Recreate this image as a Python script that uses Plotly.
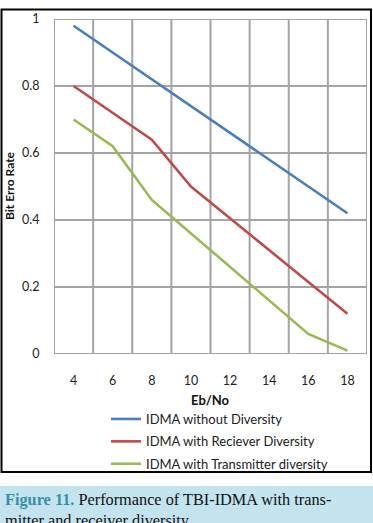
import plotly.graph_objects as go

eb_no = ["4", "6", "8", "10", "12", "14", "16", "18"]
no_div = [0.98, 0.90, 0.82, 0.74, 0.66, 0.58, 0.50, 0.42]
rx_div = [0.80, 0.72, 0.64, 0.50, 0.405, 0.31, 0.215, 0.12]
tx_div = [0.70, 0.62, 0.46, 0.36, 0.26, 0.16, 0.06, 0.01]
names = ["IDMA without Diversity", "IDMA with Reciever Diversity", "IDMA with Transmitter diversity"]
colors = ["#4a7ebb", "#be4b48", "#98b954"]
y_ticks = [0, 0.2, 0.4, 0.6, 0.8, 1]
y_labels = ["0", "0.2", "0.4", "0.6", "0.8", "1"]

W, H = 373, 523
L, R, T, B = 54, 6, 19, 169

fig = go.Figure()
for i, (ys, nm, c) in enumerate(zip([no_div, rx_div, tx_div], names, colors)):
    fig.add_trace(go.Scatter(x=eb_no, y=ys, mode="lines", name=nm,
                             legendgroup=f"g{i}",
                             line=dict(color=c, width=2.6)))

def px_x(p):
    return (p - L) / (W - L - R)

def px_y(p):
    return 1 - (p - T) / (H - T - B)

GRID = "#a4a4a4"
fig.update_layout(
    width=W, height=H,
    margin=dict(l=L, r=R, t=T, b=B),
    paper_bgcolor="white", plot_bgcolor="white",
    font=dict(family="Lato, Open Sans, sans-serif", size=12, color="#222"),
    showlegend=True,
    legend=dict(x=px_x(106), y=px_y(404), xanchor="left", yanchor="top",
                xref="paper", yref="paper",
                font=dict(size=13, family="Lato, Open Sans, sans-serif", color="#222"),
                tracegroupgap=2.5, itemwidth=30, bgcolor="rgba(0,0,0,0)"),
)
fig.update_xaxes(type="category", range=[-0.5, len(eb_no) - 0.5],
                 showgrid=False, showline=False,
                 ticks="outside", ticklen=15, tickcolor="white",
                 zeroline=False, tickfont=dict(size=12.5))
fig.update_yaxes(range=[0, 1], tickvals=y_ticks, ticktext=y_labels,
                 showgrid=False, showline=False,
                 ticks="outside", ticklen=11, tickcolor="white",
                 zeroline=False, tickfont=dict(size=12.5))

# gridlines drawn through the axes' own scales
for yv in y_ticks:
    fig.add_shape(type="line", xref="paper", yref="y", x0=0, x1=1, y0=yv, y1=yv,
                  line=dict(color=GRID, width=2), layer="below")
for k in range(len(eb_no) + 1):
    fig.add_shape(type="line", xref="x", yref="paper", x0=k - 0.5, x1=k - 0.5, y0=0, y1=1,
                  line=dict(color=GRID, width=2), layer="below")

fig.add_annotation(text="<b>Bit Erro Rate</b>", textangle=-90,
                   x=px_x(10), y=px_y(186), xref="paper", yref="paper",
                   xanchor="center", yanchor="middle",
                   showarrow=False, font=dict(size=12, color="#111"))
fig.add_annotation(text="<b>Eb/No</b>",
                   x=px_x(210), y=px_y(400), xref="paper", yref="paper",
                   xanchor="center", yanchor="middle",
                   showarrow=False, font=dict(size=13, color="#111"))

# outer frame
fig.add_shape(type="rect", xref="paper", yref="paper",
              x0=px_x(1.5), x1=px_x(371), y0=px_y(472), y1=px_y(9.5),
              line=dict(color="black", width=2), layer="above")
# caption box
fig.add_shape(type="rect", xref="paper", yref="paper",
              x0=px_x(0), x1=px_x(373), y0=px_y(530), y1=px_y(486),
              line=dict(width=0), fillcolor="#c3e4ee", layer="above")
fig.add_annotation(
    text="<span style='color:#3a8fa8'><b>Figure 11.</b></span> Performance of TBI-IDMA with trans-<br>mitter and receiver diversity.",
    x=px_x(3), y=px_y(488), xref="paper", yref="paper", xanchor="left", yanchor="top",
    align="left", showarrow=False,
    font=dict(family="Liberation Serif, serif", size=16.3, color="#111"))

fig.write_html("out.html")
